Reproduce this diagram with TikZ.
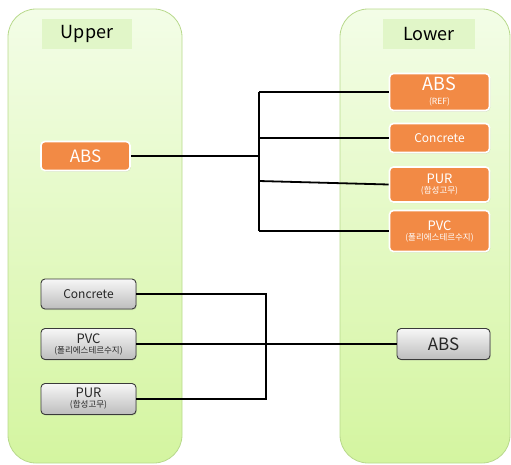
\documentclass[tikz,border=0pt]{standalone}
\usepackage{fontspec}
\setmainfont{Noto Sans CJK KR}
\usetikzlibrary{shadows}

\definecolor{panelTop}{HTML}{F3FDE7}
\definecolor{panelBot}{HTML}{D4F5A0}
\definecolor{panelEdge}{HTML}{B8D98C}
\definecolor{titleBg}{HTML}{E1F6C8}
\definecolor{orangeFill}{HTML}{F28A45}
\definecolor{grayTop}{HTML}{F7F7F7}
\definecolor{grayBot}{HTML}{BDBDBD}
\definecolor{grayEdge}{HTML}{3A3A3A}

% small second line inside a box
\newcommand{\subline}{\fontsize{8.5}{9}\selectfont}

\tikzset{
  panel/.style={top color=panelTop, bottom color=panelBot, draw=panelEdge,
    line width=0.8pt, rounded corners=28pt},
  titlebox/.style={fill=titleBg, minimum width=90pt, minimum height=30pt,
    inner sep=0pt, font=\fontsize{18}{18}\selectfont},
  orangebox/.style={rectangle, rounded corners=4pt, fill=orangeFill, draw=white,
    line width=1.6pt, text=white, inner sep=0pt, align=center,
    drop shadow={opacity=0.25, shadow xshift=0.8pt, shadow yshift=-1pt}},
  graybox/.style={rectangle, rounded corners=4pt, top color=grayTop,
    bottom color=grayBot, draw=grayEdge, line width=0.9pt, text=black!85,
    inner sep=0pt, align=center,
    drop shadow={opacity=0.25, shadow xshift=0.8pt, shadow yshift=-1pt}},
  link/.style={draw=black, line width=1.8pt}
}

\begin{document}
\begin{tikzpicture}[x=1pt, y=-1pt]
\useasboundingbox (0,0) rectangle (511,464);

% the two columns
\shade[panel] (8,9) rectangle (182,463);
\shade[panel] (340,9) rectangle (510,463);

\node[titlebox] (tu) at (87,34) {Upper};
\node[titlebox, minimum width=92pt] (tl) at (429,34) {Lower};

% upper column
\node[orangebox, minimum width=89pt, minimum height=29pt,
      font=\fontsize{17}{17}\selectfont] (uabs) at (85.5,156) {ABS};

\node[graybox, minimum width=95pt, minimum height=30pt,
      font=\fontsize{12}{12}\selectfont] (ucon) at (88.5,294) {Concrete};
\node[graybox, minimum width=95pt, minimum height=31pt,
      font=\fontsize{13}{13}\selectfont] (upvc) at (88.5,344)
      {PVC\\[-3pt]{\subline (폴리에스테르수지)}};
\node[graybox, minimum width=95pt, minimum height=31pt,
      font=\fontsize{13}{13}\selectfont] (upur) at (88.5,399)
      {PUR\\[-3pt]{\subline (합성고무)}};

% lower column
\node[orangebox, minimum width=100pt, minimum height=37pt,
      font=\fontsize{18}{18}\selectfont] (labs) at (439.5,92)
      {ABS\\[-4pt]{\subline (REF)}};
\node[orangebox, minimum width=100pt, minimum height=29pt,
      font=\fontsize{12}{12}\selectfont] (lcon) at (439.5,138) {Concrete};
\node[orangebox, minimum width=100pt, minimum height=35pt,
      font=\fontsize{13}{13}\selectfont] (lpur) at (439.5,184.5)
      {PUR\\[-3pt]{\subline (합성고무)}};
\node[orangebox, minimum width=100pt, minimum height=41pt,
      font=\fontsize{13}{13}\selectfont] (lpvc) at (439.5,231)
      {PVC\\[-3pt]{\subline (폴리에스테르수지)}};

\node[graybox, minimum width=93pt, minimum height=31pt,
      font=\fontsize{17}{17}\selectfont] (labs2) at (443.5,344) {ABS};

% junction points
\coordinate (j1) at (259,156);
\coordinate (j2) at (266,344);

% fan-out from the upper ABS
\draw[link] (uabs.east) -- (j1);
\draw[link] (j1 |- labs.west) -- (j1 |- lpvc.west);
\draw[link] (j1 |- labs.west) -- (labs.west);
\draw[link] (j1 |- lcon.west) -- (lcon.west);
\draw[link] (259,181) -- (lpur.west);
\draw[link] (j1 |- lpvc.west) -- (lpvc.west);

% fan-in to the lower ABS
\draw[link] (ucon.east) -| (j2 |- upur.east) -- (upur.east);
\draw[link] (upvc.east) -- (labs2.west);
\end{tikzpicture}
\end{document}
